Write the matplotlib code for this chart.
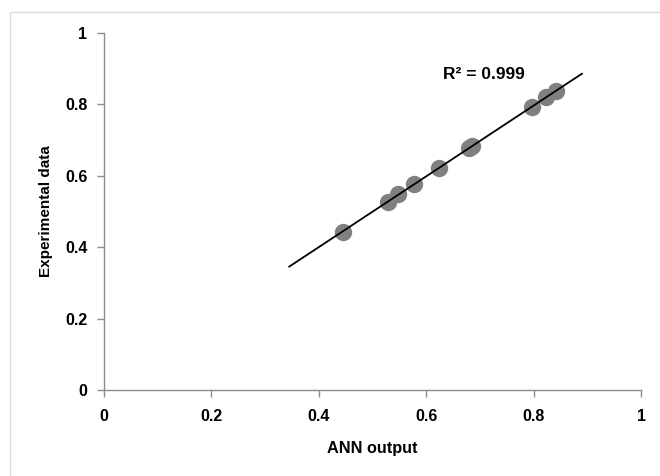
import numpy as np
import matplotlib.pyplot as plt
from matplotlib.patches import Rectangle

# values
ann_output = [0.445, 0.528, 0.547, 0.578, 0.624, 0.680, 0.686, 0.797, 0.823, 0.841]
exp_data = [0.443, 0.527, 0.549, 0.577, 0.621, 0.678, 0.684, 0.793, 0.820, 0.837]
fit_range = [0.345, 0.89]
ticks = [0, 0.2, 0.4, 0.6, 0.8, 1]
tick_labels = ['0', '0.2', '0.4', '0.6', '0.8', '1']

plt.rcParams['font.family'] = ['Liberation Sans', 'DejaVu Sans']

fig = plt.figure(figsize=(6.6, 4.76), dpi=100)
fig.patches.append(Rectangle((10 / 660, -0.1), 1.2, 1 - 12 / 476 + 0.1,
                             transform=fig.transFigure, fill=False,
                             edgecolor='#d9d9d9', lw=0.9, zorder=0))
ax = fig.add_axes([104 / 660, 1 - 390 / 476, (641 - 104) / 660, (390 - 33) / 476])

ax.plot(ann_output, exp_data, 'o', color='#808080', ms=12.5, mew=0, zorder=2)

k, b = np.polyfit(ann_output, exp_data, 1)
xf = np.array(fit_range)
ax.plot(xf, k * xf + b, color='black', lw=1.3, zorder=3)

ax.text(0.632, 0.885, 'R² = 0.999', fontsize=12.5, fontweight='bold', va='center')

ax.set_xlim(0, 1)
ax.set_ylim(0, 1)
ax.set_xticks(ticks)
ax.set_xticklabels(tick_labels)
ax.set_yticks(ticks)
ax.set_yticklabels(tick_labels)
for s in ['top', 'right']:
    ax.spines[s].set_visible(False)
for s in ['left', 'bottom']:
    ax.spines[s].set_color('#8c8c8c')
    ax.spines[s].set_linewidth(1.0)
ax.tick_params(direction='out', length=5, width=1.0, color='#8c8c8c',
               labelsize=11.5)
ax.tick_params(axis='y', pad=7)
ax.tick_params(axis='x', pad=9)
for lab in ax.get_xticklabels() + ax.get_yticklabels():
    lab.set_fontweight('bold')

ax.set_xlabel('ANN output', fontsize=11.7, fontweight='bold', labelpad=12)
ax.set_ylabel('Experimental data', fontsize=11, fontweight='bold', labelpad=8.5)

fig.savefig('out.png', dpi=100)
